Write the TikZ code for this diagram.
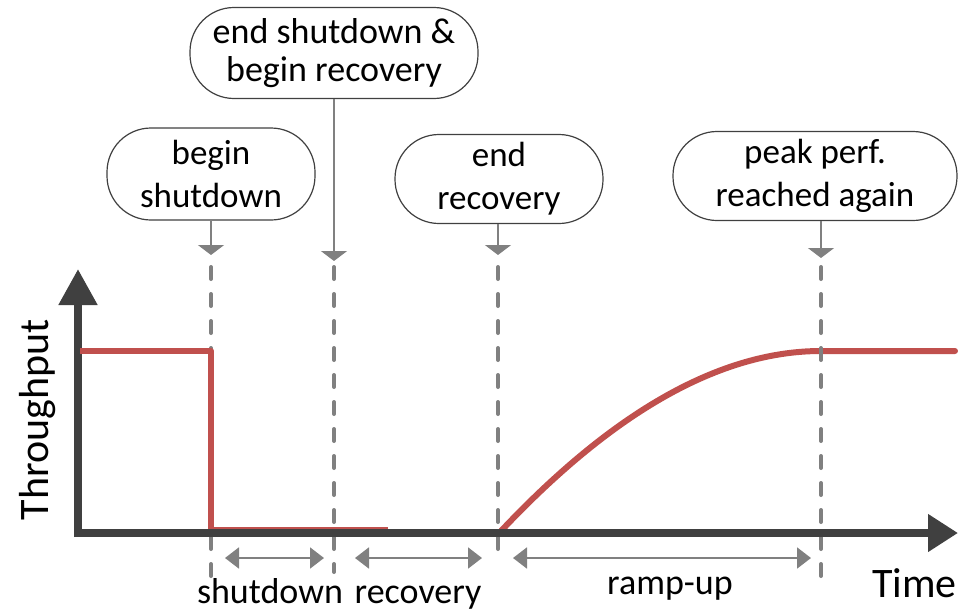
\documentclass[tikz,border=0pt]{standalone}
\usepackage{fontspec}
\setmainfont{Carlito}
\usetikzlibrary{arrows.meta}
\definecolor{axisgray}{HTML}{404040}
\definecolor{guidegray}{HTML}{808080}
\definecolor{perfred}{HTML}{C0504D}
\tikzset{
  evbox/.style={draw=axisgray, line width=1.2pt, fill=white, rectangle,
    rounded corners=44pt, align=center, inner sep=0pt,
    font=\fontsize{35}{43}\selectfont},
  pointer/.style={draw=guidegray, line width=1.5pt,
    -{Triangle[length=10pt,width=26pt]}},
  guide/.style={draw=guidegray, line width=4pt, line cap=round,
    dash pattern=on 12pt off 15pt},
  span/.style={draw=guidegray, line width=2pt,
    {Triangle[length=14pt,width=21pt]}-{Triangle[length=14pt,width=21pt]}},
  axisline/.style={draw=axisgray, line width=8pt},
  perf/.style={draw=perfred, line width=6pt, line join=round},
  lbl/.style={font=\fontsize{36}{40}\selectfont, inner sep=0pt},
  axlbl/.style={font=\fontsize{42}{46}\selectfont, inner sep=0pt},
}
\begin{document}
\begin{tikzpicture}[x=1pt,y=-1pt]
\useasboundingbox (0,0) rectangle (958,613);

% ramp-up curve and recovered level (guides are drawn over it)
\draw[perf, line cap=round] (501,531) .. controls (613,412) and (720,351) .. (821,351) -- (955,351);

% axes
\draw[axisline, -{Triangle[length=36pt,width=37pt]}] (78,537) -- (78,269);

% guide lines at the event times
\coordinate (g1a) at (211,267); \coordinate (g1b) at (211,580);
\coordinate (g2a) at (334,267); \coordinate (g2b) at (334,572);
\coordinate (g3a) at (498,267); \coordinate (g3b) at (498,556);
\coordinate (g4a) at (821,267); \coordinate (g4b) at (821,580);
\draw[guide] (g1a) -- (g1b);
\draw[guide] (g2a) -- (g2b);
\draw[guide] (g3a) -- (g3b);
\draw[guide] (g4a) -- (g4b);

% initial level and drop to zero
\draw[perf] (80,351) -- (211,351) -- (211,530) -- (388,530);
\draw[axisline, -{Triangle[length=30pt,width=36pt]}] (74,533) -- (958,533);

% event callouts
\node[evbox, minimum width=208pt, minimum height=92pt] (bs) at (211,174) {begin\\shutdown};
\node[evbox, minimum width=288pt, minimum height=91pt, font=\fontsize{36}{38}\selectfont] (es) at (334,53) {end shutdown \&\\begin recovery};
\node[evbox, minimum width=208pt, minimum height=89pt] (er) at (499,179) {end\\recovery};
\node[evbox, minimum width=284pt, minimum height=89pt] (pk) at (815,176) {peak perf.\\reached again};

\coordinate (p1) at (211,255);
\coordinate (p2) at (334,261);
\coordinate (p3) at (498,255);
\coordinate (p4) at (821,258);
\draw[pointer] (bs.south -| p1) -- (p1);
\draw[pointer] (es.south -| p2) -- (p2);
\draw[pointer] (er.south -| p3) -- (p3);
\draw[pointer] (pk.south -| p4) -- (p4);

% phase spans
\coordinate (s1a) at (225,558); \coordinate (s1b) at (324,558);
\coordinate (s2a) at (355,558); \coordinate (s2b) at (482,558);
\coordinate (s3a) at (513,558); \coordinate (s3b) at (811,558);
\draw[span] (s1a) -- (s1b);
\draw[span] (s2a) -- (s2b);
\draw[span] (s3a) -- (s3b);

\node[lbl, anchor=base] (l1) at (270,603) {shutdown};
\node[lbl, anchor=base] (l2) at (418,603) {recovery};
\node[lbl, anchor=base] (l3) at (670,594) {ramp-up};

% axis labels
\node[axlbl, anchor=base east] (tx) at (957,597) {Time};
\node[axlbl, rotate=90, anchor=base] (ty) at (48,420) {Throughput};
\end{tikzpicture}
\end{document}
